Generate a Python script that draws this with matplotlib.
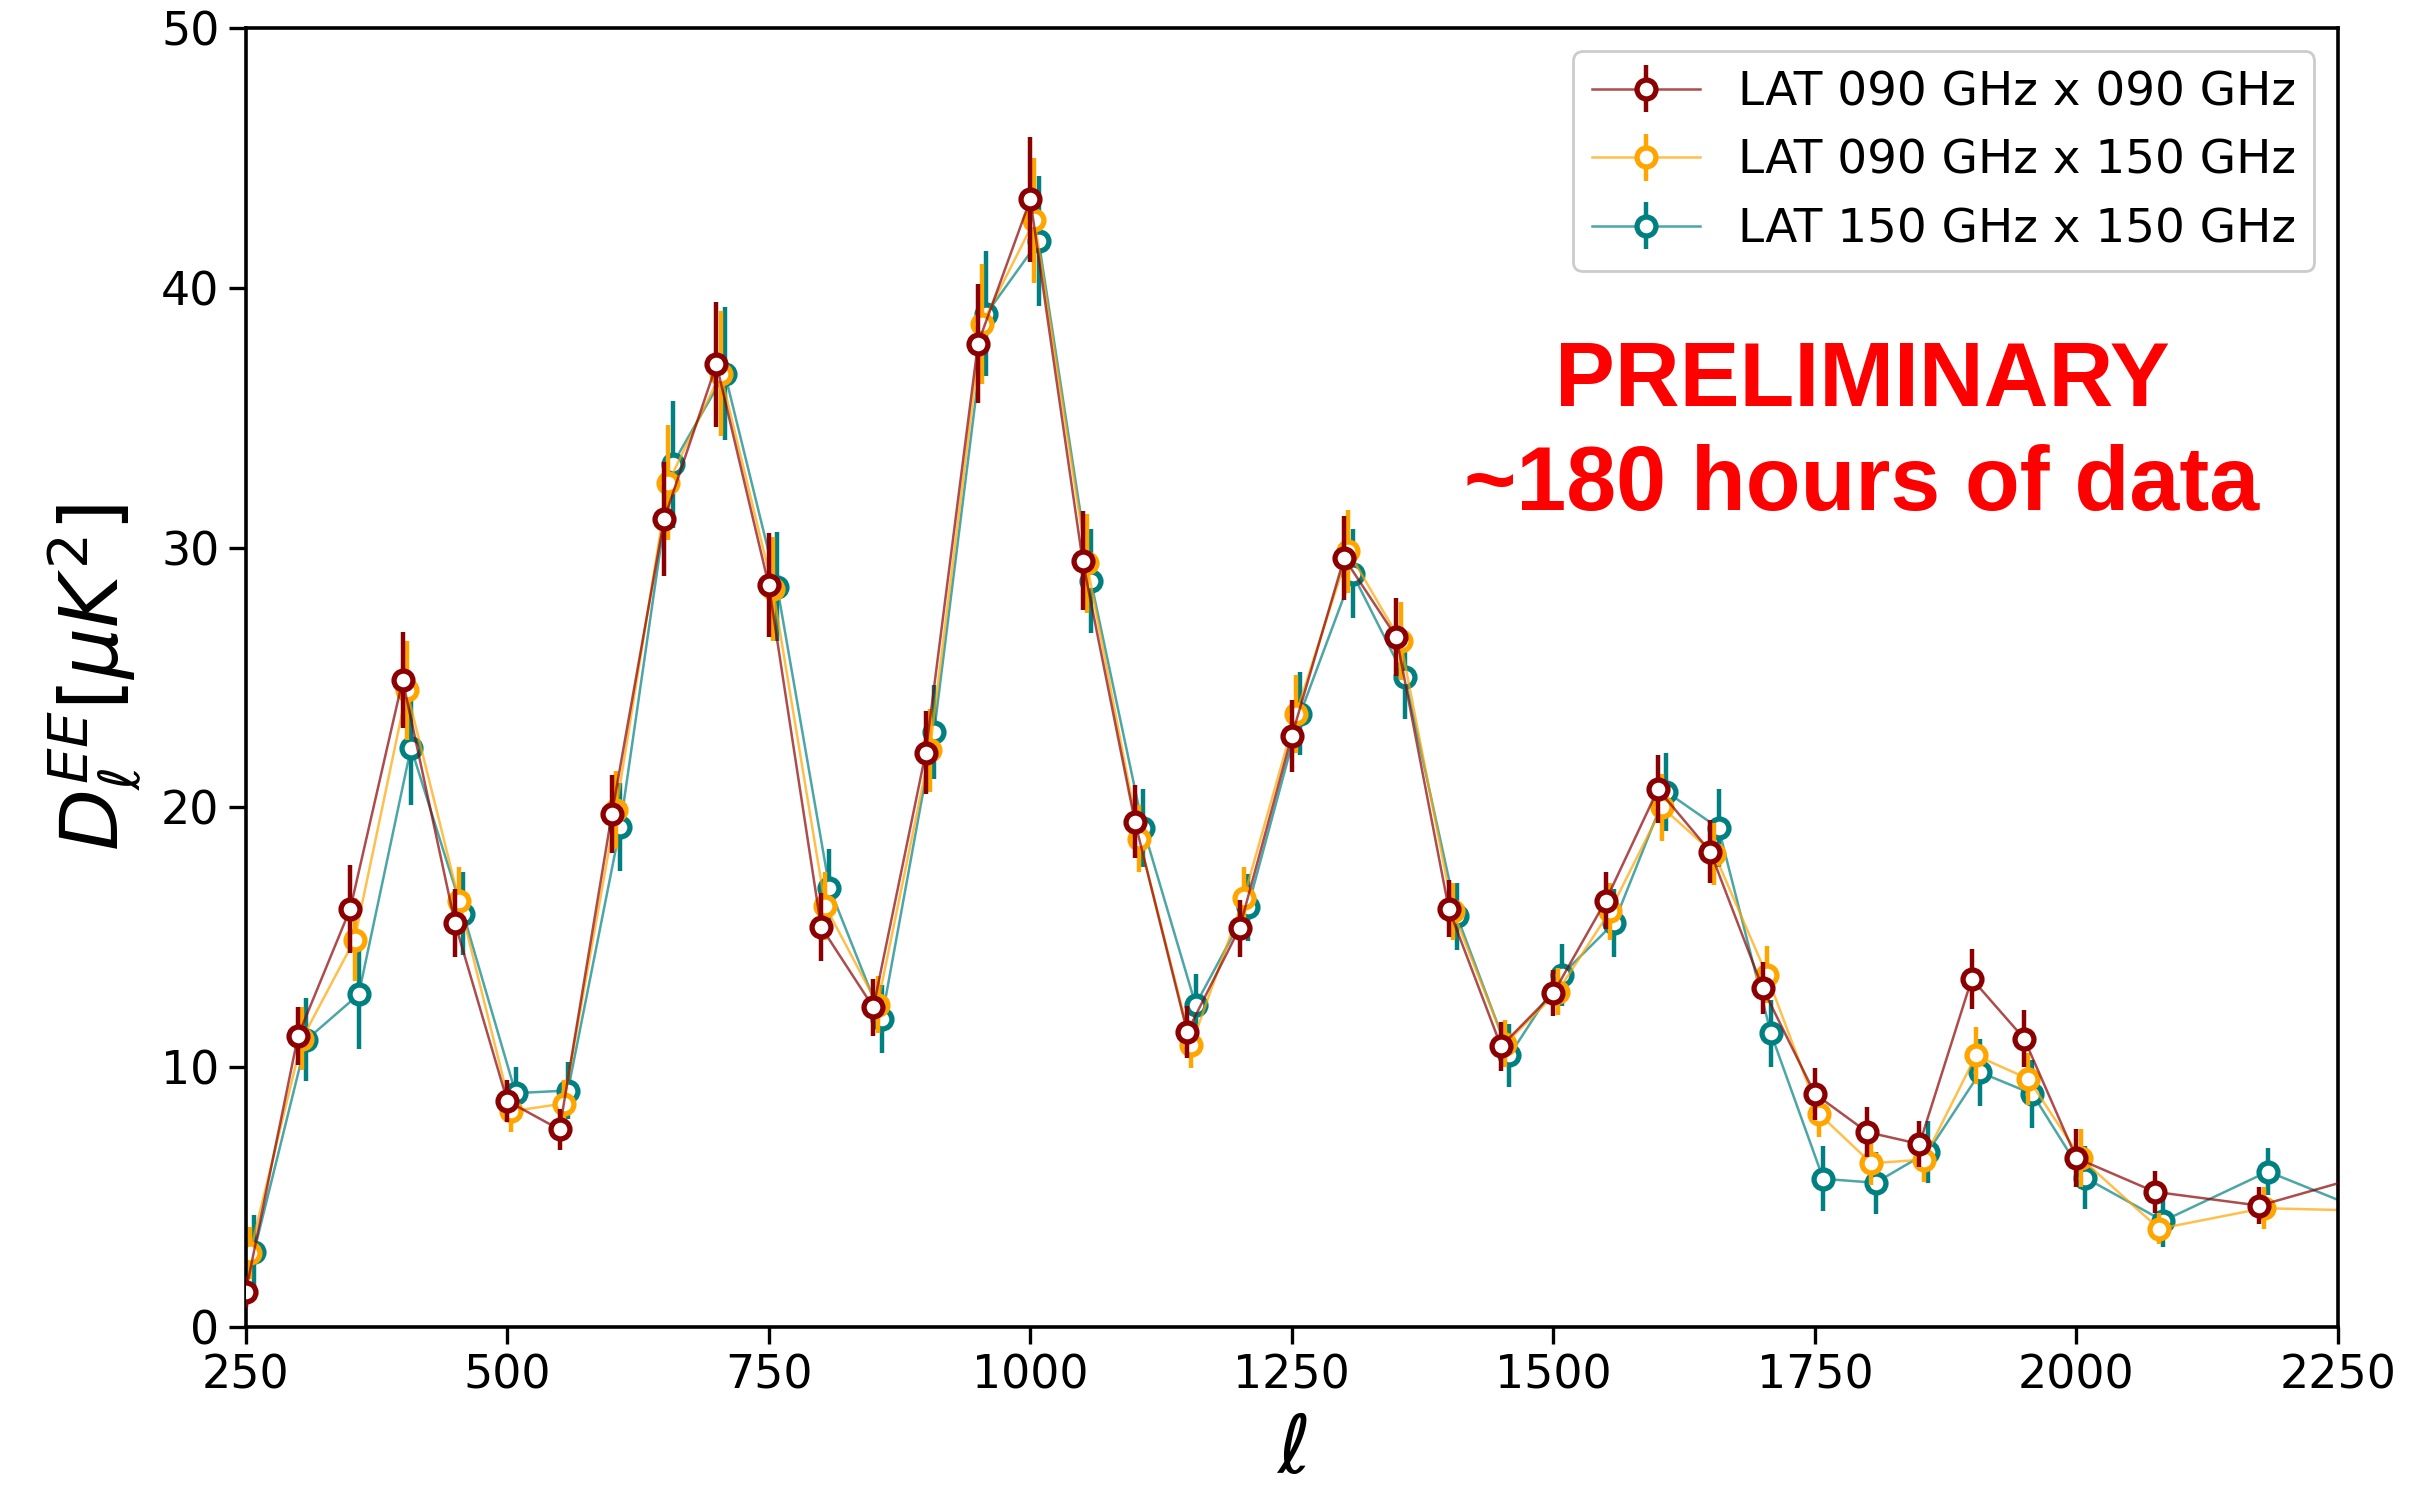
import matplotlib

matplotlib.use("Agg")
import matplotlib.pyplot as plt


# multipole bin centres
ell = [250, 300, 350, 400, 450, 500, 550, 600, 650, 700, 750, 800, 850, 900,
       950, 1000, 1050, 1100, 1150, 1200, 1250, 1300, 1350, 1400, 1450, 1500,
       1550, 1600, 1650, 1700, 1750, 1800, 1850, 1900, 1950, 2000, 2075, 2175,
       2300]

dl_90x90 = [1.35, 11.2, 16.1, 24.9, 15.55, 8.7, 7.6, 19.75, 31.1, 37.05, 28.55,
            15.4, 12.3, 22.1, 37.85, 43.4, 29.5, 19.45, 11.35, 15.35, 22.75,
            29.6, 26.55, 16.1, 10.8, 12.85, 16.4, 20.7, 18.3, 13.05, 8.97, 7.5,
            7.04, 13.4, 11.1, 6.5, 5.2, 4.67, 6.1]
err_90x90 = [0.6, 1.1, 1.7, 1.85, 1.3, 0.8, 0.8, 1.5, 2.2, 2.4, 2.0, 1.3, 1.1,
             1.6, 2.3, 2.4, 1.9, 1.4, 1.0, 1.1, 1.4, 1.6, 1.5, 1.1, 0.95, 0.9,
             1.1, 1.3, 1.2, 1.0, 1.0, 0.95, 0.9, 1.15, 1.1, 1.1, 0.8, 0.7, 0.7]

dl_90x150 = [2.85, 11.1, 14.9, 24.5, 16.4, 8.3, 8.6, 19.9, 32.5, 36.7, 28.4,
             16.2, 12.4, 22.2, 38.6, 42.6, 29.4, 18.8, 10.85, 16.5, 23.6, 29.85,
             26.4, 16.0, 10.9, 12.9, 16.0, 20.0, 18.2, 13.55, 8.2, 6.3, 6.44,
             10.45, 9.55, 6.5, 3.78, 4.57, 4.45]
err_90x150 = [1.0, 1.2, 1.6, 1.9, 1.3, 0.8, 0.9, 1.5, 2.2, 2.4, 2.0, 1.3, 1.1,
              1.6, 2.3, 2.4, 1.9, 1.3, 0.9, 1.2, 1.5, 1.6, 1.5, 1.1, 0.9, 0.9,
              1.1, 1.3, 1.2, 1.1, 0.9, 0.85, 0.85, 1.1, 1.0, 1.1, 0.6, 0.8, 0.7]

dl_150x150 = [2.9, 11.05, 12.8, 22.3, 15.9, 9.0, 9.1, 19.25, 33.2, 36.7, 28.5,
              16.9, 11.85, 22.9, 39.0, 41.8, 28.7, 19.2, 12.4, 16.15, 23.6,
              29.0, 25.0, 15.8, 10.45, 13.55, 15.55, 20.6, 19.2, 11.3, 5.7,
              5.55, 6.73, 9.8, 8.97, 5.75, 4.08, 5.98, 3.95]
err_150x150 = [1.4, 1.6, 2.1, 2.2, 1.6, 1.0, 1.1, 1.7, 2.45, 2.55, 2.1, 1.5,
               1.3, 1.8, 2.4, 2.5, 2.0, 1.5, 1.2, 1.3, 1.6, 1.7, 1.6, 1.3, 1.2,
               1.2, 1.3, 1.5, 1.5, 1.3, 1.25, 1.2, 1.2, 1.3, 1.3, 1.2, 1.0, 0.9,
               0.9]

labels = ["LAT 090 GHz x 090 GHz", "LAT 090 GHz x 150 GHz",
          "LAT 150 GHz x 150 GHz"]

# (values, errors, colour, small ell shift so the points don't overlap)
series = [
    (dl_90x90, err_90x90, (0.545, 0.0, 0.0), 0),
    (dl_90x150, err_90x150, (1.0, 0.647, 0.0), 4),
    (dl_150x150, err_150x150, (0.0, 0.5, 0.5), 8),
]

fig = plt.figure(figsize=(12.045, 7.49), dpi=200)
ax = fig.add_axes([0.102, 0.1142, 0.8685, 0.8671])

for i, ((vals, errs, rgb, shift), label) in enumerate(zip(series, labels)):
    x = [l + shift for l in ell]
    ax.errorbar(x, vals, yerr=errs, fmt="o-", color=(*rgb, 0.7), lw=0.9,
                mec=rgb, mfc="white", mew=1.9, ms=6.8, ecolor=rgb,
                elinewidth=1.6, capsize=0, label=label, zorder=3 - i)

ax.set_xlim(250, 2250)
ax.set_ylim(0, 50)
ax.set_xticks(range(250, 2251, 250))
ax.set_yticks(range(0, 51, 10))
ax.tick_params(labelsize=16.5, length=6, width=1.2)
for spine in ax.spines.values():
    spine.set_linewidth(1.3)

ax.set_xlabel(r"$\ell$", fontsize=29, labelpad=5)
ax.set_ylabel(r"$D_\ell^{EE}[\mu K^2]$", fontsize=29, labelpad=6)

ax.legend(loc="upper right", fontsize=16.9, framealpha=1.0, handlelength=2.3)

ax.text(0.7725, 0.687, "PRELIMINARY\n~180 hours of data",
        transform=ax.transAxes, ha="center", va="center", color="red",
        fontsize=32.3, fontweight="bold", family="Liberation Sans",
        linespacing=1.3)

fig.savefig("out.png", dpi=200)
